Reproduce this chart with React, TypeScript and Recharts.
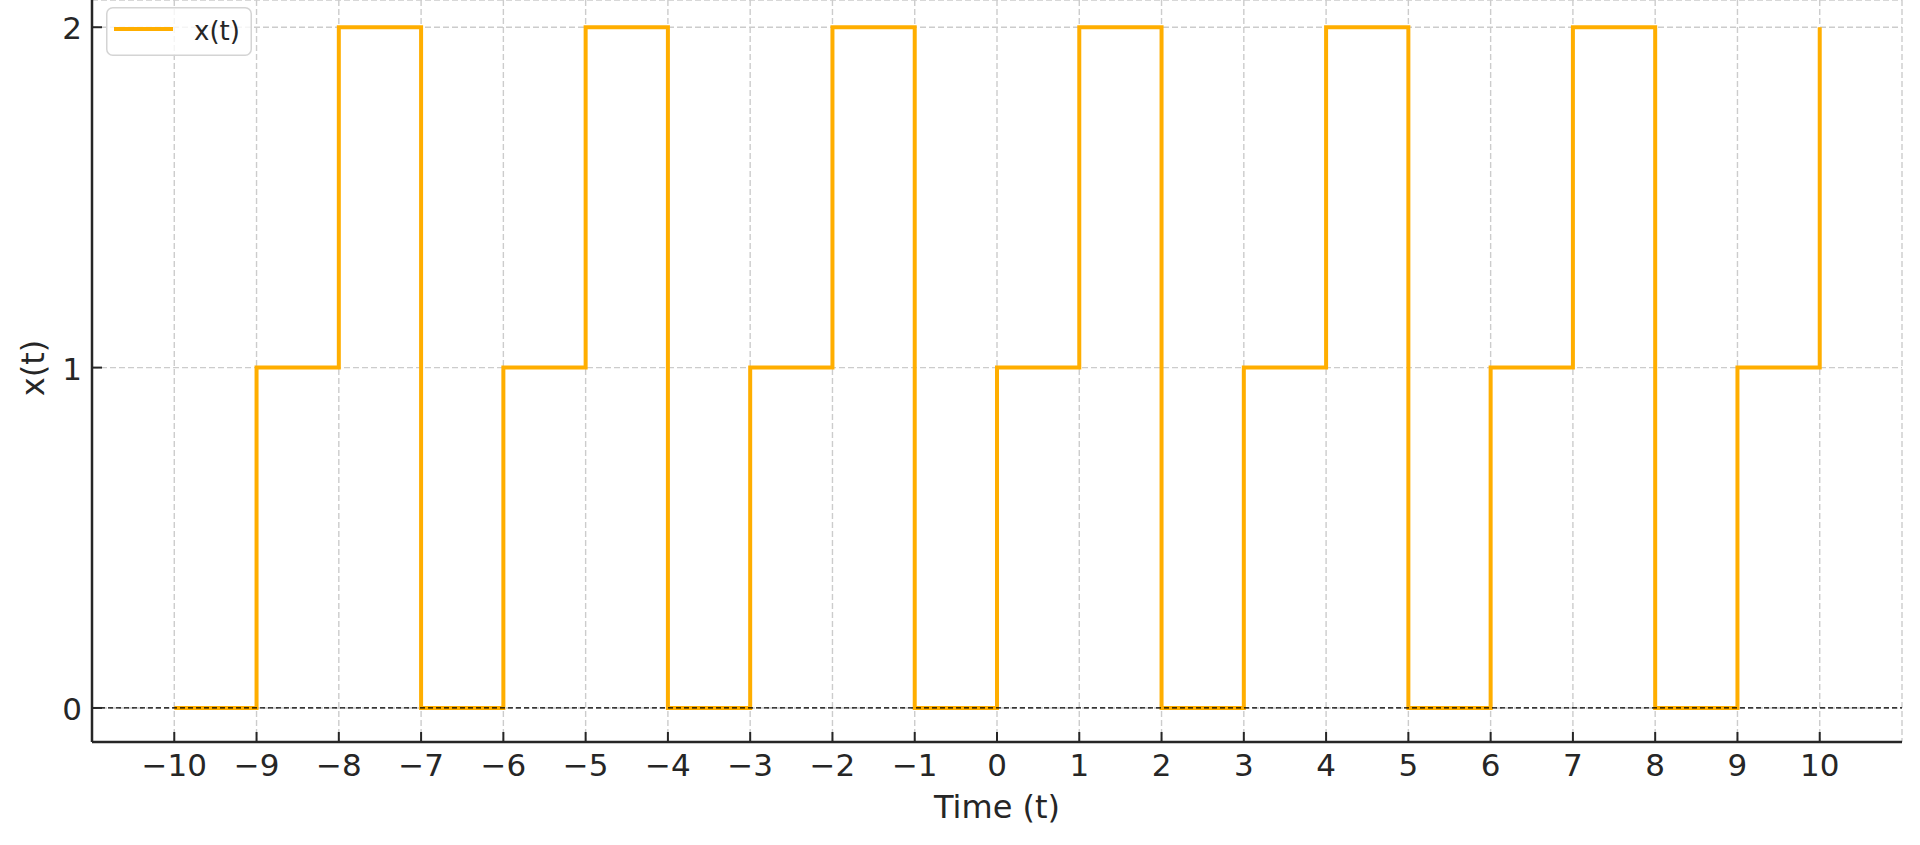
import {
  LineChart,
  Line,
  XAxis,
  YAxis,
  CartesianGrid,
  ReferenceLine,
  Legend,
} from "recharts";

const TIMES = [-10, -9, -8, -7, -6, -5, -4, -3, -2, -1, 0, 1, 2, 3, 4, 5, 6, 7, 8, 9, 10];
const VALUES = [0, 1, 2, 0, 1, 2, 0, 1, 2, 0, 1, 2, 0, 1, 2, 0, 1, 2, 0, 1, 2];
const X_TICKS = [-10, -9, -8, -7, -6, -5, -4, -3, -2, -1, 0, 1, 2, 3, 4, 5, 6, 7, 8, 9, 10];
const Y_TICKS = [0, 1, 2];

const FONT = "'DejaVu Sans', sans-serif";
const INK = "#262626";
const ORANGE = "#ffae00";

const data = TIMES.map((t, i) => ({ t, x: VALUES[i] }));

const fmt = (v: number) => String(v).replace("-", "\u2212");

function XTick(props: any) {
  const { x, y, payload } = props;
  return (
    <g>
      <line x1={x} x2={x} y1={y} y2={y - 10} stroke={INK} strokeWidth={2} />
      <text x={x} y={y + 34} textAnchor="middle" fontSize={31} fill={INK} fontFamily={FONT}>
        {fmt(payload.value)}
      </text>
    </g>
  );
}

function YTick(props: any) {
  const { x, y, payload } = props;
  return (
    <g>
      <line x1={x} x2={x + 10} y1={y} y2={y} stroke={INK} strokeWidth={2} />
      <text x={x - 10} y={y + 12} textAnchor="end" fontSize={31} fill={INK} fontFamily={FONT}>
        {fmt(payload.value)}
      </text>
    </g>
  );
}

function LegendBox() {
  return (
    <svg width={146} height={49} style={{ display: "block" }}>
      <rect
        x={0.75}
        y={0.75}
        width={144.5}
        height={47.5}
        rx={6}
        fill="rgba(255,255,255,0.8)"
        stroke="#d4d4d4"
        strokeWidth={1.5}
      />
      <line x1={8} x2={67} y1={22} y2={22} stroke={ORANGE} strokeWidth={4} />
      <text x={88} y={33} fontSize={26} fill={INK} fontFamily={FONT}>
        x(t)
      </text>
    </svg>
  );
}

export default function App() {
  return (
    <div style={{ position: "absolute", left: 0, top: 0, width: 1920, height: 845, background: "#fff" }}>
      <LineChart
        width={1920}
        height={845}
        data={data}
        margin={{ top: 0, right: 18, bottom: 0, left: 0 }}
      >
        <CartesianGrid stroke="#cccccc" strokeWidth={1.4} strokeDasharray="6 3" />
        <XAxis
          dataKey="t"
          type="number"
          domain={[-11, 11]}
          ticks={X_TICKS}
          interval={0}
          height={103}
          tickSize={0}
          tickMargin={0}
          tickLine={false}
          axisLine={{ stroke: INK, strokeWidth: 2.5 }}
          tick={<XTick />}
          label={{
            content: ({ viewBox }: any) => (
              <text
                x={viewBox.x + viewBox.width / 2}
                y={viewBox.y + 76}
                textAnchor="middle"
                fontSize={32}
                fill={INK}
                fontFamily={FONT}
              >
                Time (t)
              </text>
            ),
          }}
        />
        <YAxis
          type="number"
          domain={[-0.1, 2.08]}
          ticks={Y_TICKS}
          interval={0}
          width={92}
          tickSize={0}
          tickMargin={0}
          tickLine={false}
          axisLine={{ stroke: INK, strokeWidth: 2.5 }}
          tick={<YTick />}
          label={{
            content: ({ viewBox }: any) => {
              const cx = viewBox.x + 44;
              const cy = viewBox.y + viewBox.height / 2 - 3;
              return (
                <text
                  x={cx}
                  y={cy}
                  transform={`rotate(-90, ${cx}, ${cy})`}
                  textAnchor="middle"
                  fontSize={32}
                  fill={INK}
                  fontFamily={FONT}
                >
                  x(t)
                </text>
              );
            },
          }}
        />
        <Line
          type="stepAfter"
          dataKey="x"
          stroke={ORANGE}
          strokeWidth={4}
          dot={false}
          activeDot={false}
          isAnimationActive={false}
        />
        <ReferenceLine y={0} stroke="#000" strokeWidth={1.3} strokeDasharray="5 3" />
        <Legend
          layout="horizontal"
          verticalAlign="middle"
          align="center"
          content={() => <LegendBox />}
          wrapperStyle={{ left: 106, top: 7, width: 146, height: 49 }}
        />
      </LineChart>
    </div>
  );
}
